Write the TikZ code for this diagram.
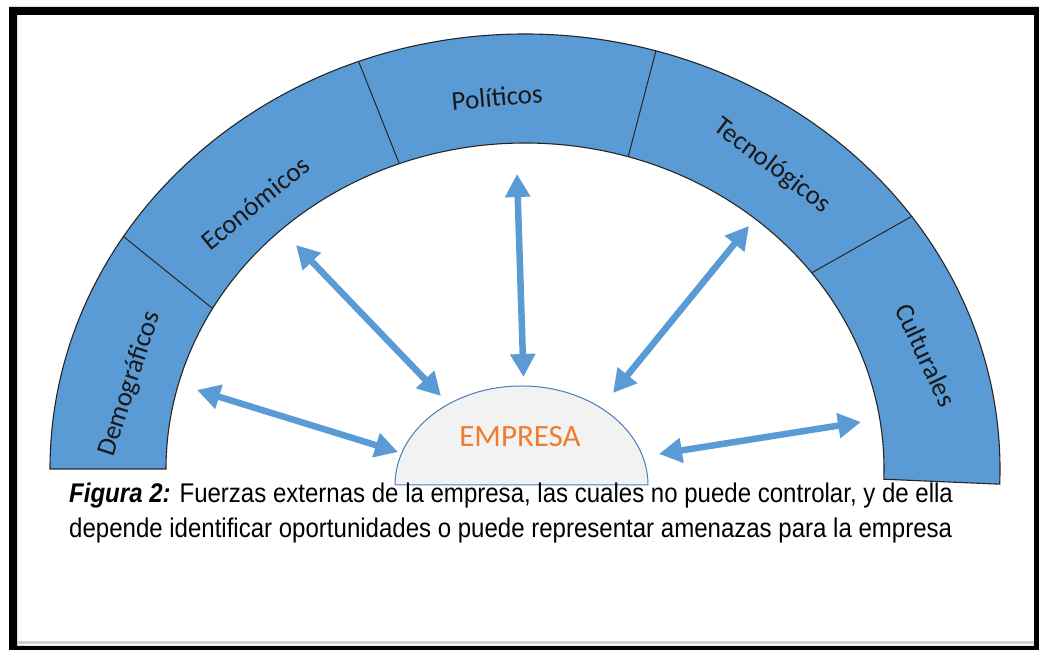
\documentclass[tikz,border=0pt]{standalone}
\usepackage{fontspec}
\setmainfont{Liberation Sans}
\newfontfamily\calib{Carlito}
\newfontfamily\narrow[FakeStretch=0.89]{Liberation Sans}
\usetikzlibrary{arrows.meta,calc}
\definecolor{bandblue}{HTML}{5B9BD5}
\definecolor{orng}{HTML}{ED7D31}
\definecolor{semifill}{HTML}{F2F2F2}
\definecolor{semiline}{HTML}{4A7EBB}
\definecolor{lgray}{HTML}{CFCFCF}
\begin{document}
\begin{tikzpicture}[x=1pt,y=1pt,
  lbl/.style={font=\calib\fontsize{27}{30}\selectfont, text=black!90, inner sep=0},
  force/.style={draw=bandblue, line width=6.5pt, {Triangle[width=24pt,length=23pt]}-{Triangle[width=24pt,length=23pt]}},
  divider/.style={draw=black!85, line width=1pt}]
\useasboundingbox (0,0) rectangle (1039,650);
\fill[white] (0,0) rectangle (1039,650);
% frame
\fill[black, even odd rule] (9,0) rectangle (1039,643) (17,4) rectangle (1034,635);
\fill[lgray] (17,6) rectangle (1034,9);
% band
\coordinate (c) at (525,181);
\fill[bandblue, draw=black!85, line width=1.1pt] (50,181)
  arc[start angle=180, end angle=-2, x radius=475pt, y radius=435pt]
  -- ($(c)+(-1.8:359pt and 326pt)$)
  arc[start angle=-1.8, end angle=180, x radius=359pt, y radius=326pt] -- cycle;
% dividers
\coordinate (d1o) at ($(c)+(147.7:475pt and 435pt)$);
\coordinate (d1i) at ($(c)+(150.5:359pt and 326pt)$);
\coordinate (d2o) at ($(c)+(110.5:475pt and 435pt)$);
\coordinate (d2i) at ($(c)+(110.5:359pt and 326pt)$);
\coordinate (d3o) at ($(c)+(74:475pt and 435pt)$);
\coordinate (d3i) at ($(c)+(73.3:359pt and 326pt)$);
\coordinate (d4o) at ($(c)+(35.5:475pt and 435pt)$);
\coordinate (d4i) at ($(c)+(37:359pt and 326pt)$);
\draw[divider] (d1o) -- (d1i);
\draw[divider] (d2o) -- (d2i);
\draw[divider] (d3o) -- (d3i);
\draw[divider] (d4o) -- (d4i);
% labels
\node[lbl, rotate=72] (demo) at (130,266) {Demográficos};
\node[lbl, rotate=39] (econ) at (255,447) {Económicos};
\node[lbl, rotate=5] (poli) at (497,553) {Políticos};
\node[lbl, rotate=-37] (tecn) at (772,484) {Tecnológicos};
\node[lbl, rotate=-65] (cult) at (926,295) {Culturales};
% empresa
\fill[semifill, draw=semiline, line width=1pt] (395,165)
  arc[start angle=180, end angle=0, x radius=126.5pt, y radius=99pt] -- cycle;
\node[font=\calib\fontsize{31}{34}\selectfont, text=orng, inner sep=0] (emp) at (520,213) {EMPRESA};
% arrows
\coordinate (a1s) at (197,260); \coordinate (a1e) at (398,198);
\coordinate (a2s) at (296,405); \coordinate (a2e) at (441,254);
\coordinate (a3s) at (517,476); \coordinate (a3e) at (523.5,273);
\coordinate (a4s) at (749,424); \coordinate (a4e) at (613,257);
\coordinate (a5s) at (659,196); \coordinate (a5e) at (861,228);
\draw[force] (a1s) -- (a1e);
\draw[force] (a2s) -- (a2e);
\draw[force] (a3s) -- (a3e);
\draw[force] (a4s) -- (a4e);
\draw[force] (a5s) -- (a5e);
% caption
\node[anchor=base west, inner sep=0, font=\narrow\fontsize{27}{32}\selectfont] (cap1) at (69,147)
  {\textbf{\textit{Figura 2:}} Fuerzas externas de la empresa, las cuales no puede controlar, y de ella};
\node[anchor=base west, inner sep=0, font=\narrow\fontsize{27}{32}\selectfont] (cap2) at (69,112)
  {depende identificar oportunidades o puede representar amenazas para la empresa};
\end{tikzpicture}
\end{document}
